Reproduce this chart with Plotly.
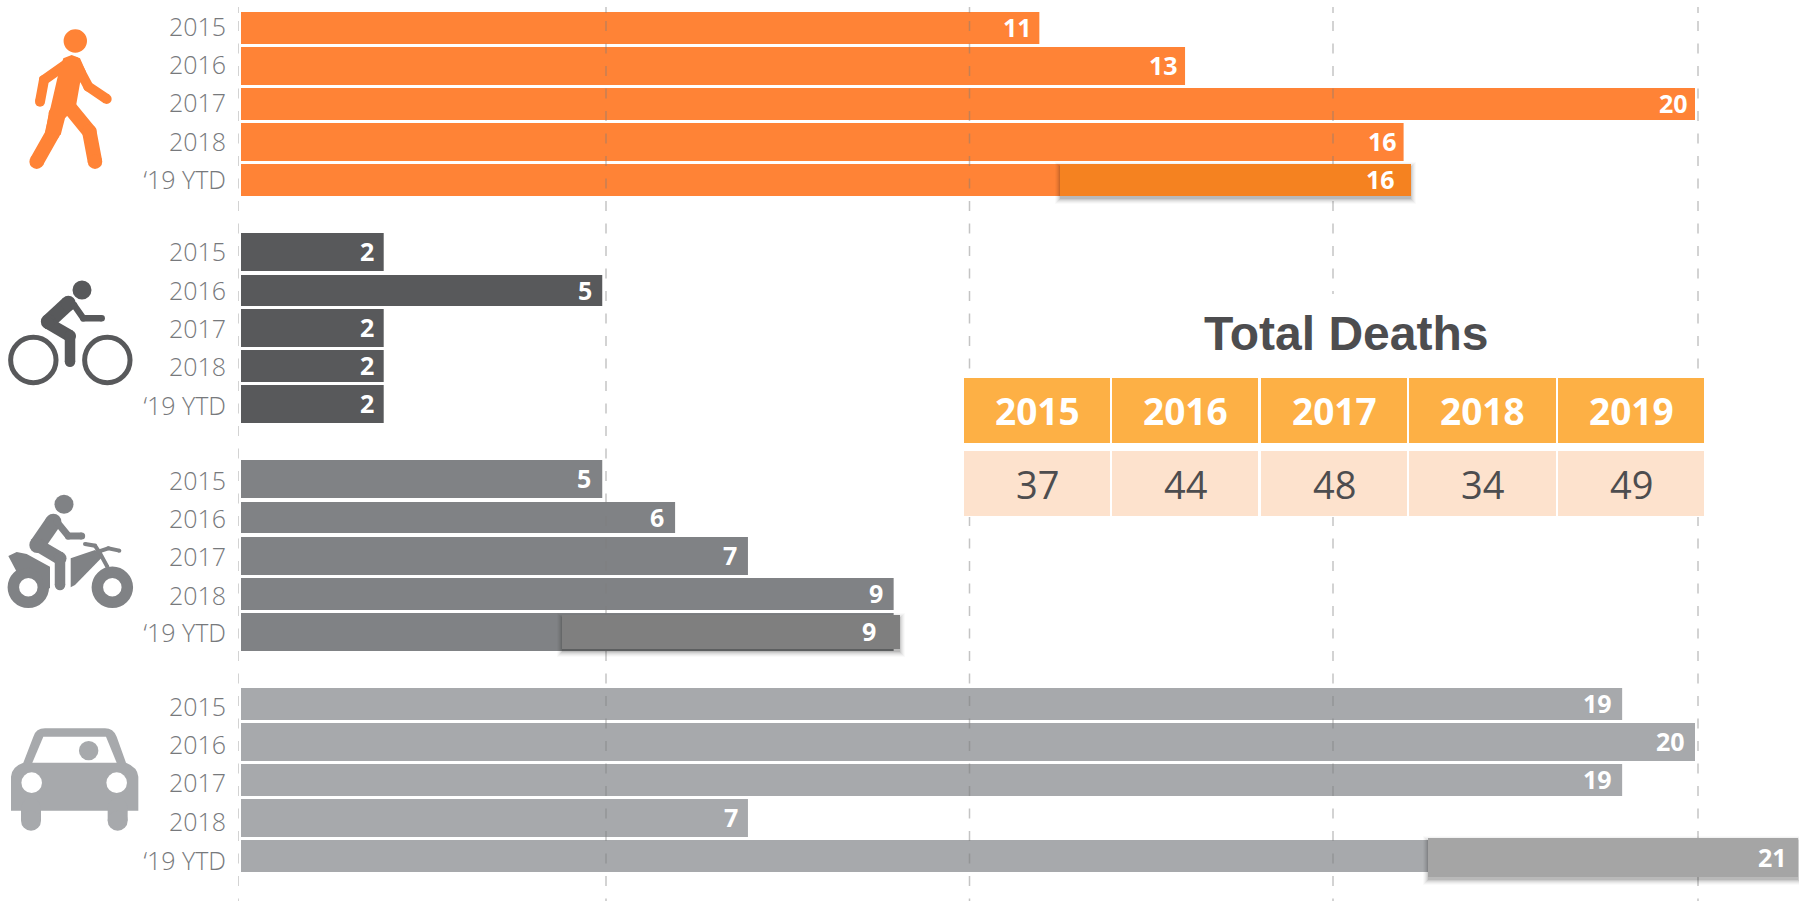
import re
import plotly.graph_objects as go

# ---- data ----
row_labels = ["2015", "2016", "2017", "2018", "‘19 YTD"]
pedestrian = [11, 13, 20, 16, 16]
bicycle = [2, 5, 2, 2, 2]
motorcycle = [5, 6, 7, 9, 9]
car = [19, 20, 19, 7, 21]
total_years = ["2015", "2016", "2017", "2018", "2019"]
total_deaths = [37, 44, 48, 34, 49]
title_text = "Total Deaths"

# ---- layout (pixels of the 1799x901 canvas) ----
W, H = 1799, 901
X0 = 238
UNIT = 72.85
INSET = 3 / UNIT
grid_px = [238, 606, 969.5, 1333, 1698]
ped_top = [12, 47, 88, 123, 164]
ped_bot = [44, 85, 120, 161, 196]
bic_top = [233, 275, 309, 350, 385]
bic_bot = [271, 306, 347, 382, 423]
mot_top = [460, 502, 537, 578, 613]
mot_bot = [498, 533, 575, 610, 651]
car_top = [688, 723, 764, 799, 840]
car_bot = [720, 761, 796, 837, 872]
ped_lab = [27, 65, 103, 142, 180]
bic_lab = [252, 291, 329, 367, 406]
mot_lab = [481, 519, 557, 596, 633]
car_lab = [707, 745, 783, 822, 861]

colors = dict(ped="#FF8336", bic="#58595B", mot="#808285", car="#A7A9AC")
hl_color = dict(ped="#F58220", mot="#7F7F7F", car="#A5A5A5")
label_shift = dict(ped=-5, bic=-8, mot=-9, car=-8)
LABEL = "#77797C"
DARK = "#4D4D4F"
GRID_DASH = "6px,8px," + ",".join(["10px,12.5px"] * 42)

groups = [
    ("ped", pedestrian, ped_top, ped_bot),
    ("bic", bicycle, bic_top, bic_bot),
    ("mot", motorcycle, mot_top, mot_bot),
    ("car", car, car_top, car_bot),
]

# highlighted '19 YTD overlays: start px, end px, top px, bottom px, label right-edge gap
highlights = [
    ("ped", 16, 1060, 1411, 164, 196, -14),
    ("mot", 9, 562, 900, 615, 649, -22),
    ("car", 21, 1428, 1798, 838, 877, -9),
]

fig = go.Figure()

for key, vals, tops, bots in groups:
    fig.add_trace(go.Bar(
        y=[(a + b) / 2 for a, b in zip(tops, bots)],
        x=[v - INSET for v in vals],
        base=INSET,
        width=[b - a for a, b in zip(tops, bots)],
        orientation="h",
        marker=dict(color=colors[key], line=dict(width=0)),
        showlegend=False,
        hoverinfo="skip",
    ))

def to_val(px):
    return (px - X0) / UNIT

for g in grid_px:
    fig.add_trace(go.Scatter(
        x=[to_val(g), to_val(g)], y=[7, H], mode="lines", cliponaxis=False,
        line=dict(color="rgba(125,125,125,0.45)", width=1.5, dash=GRID_DASH),
        showlegend=False, hoverinfo="skip",
    ))

# overlays with soft shadow, on an overlaid subplot that sits above the grid
for key, val, x0, x1, top, bot, gap in highlights:
    for grow, alpha in ((6, 0.02), (5, 0.03), (4, 0.04), (3, 0.05), (2, 0.07), (1, 0.09)):
        fig.add_trace(go.Bar(
            y=[(top + bot) / 2 + 3], x=[(x1 - x0 + 2 * grow - 2) / UNIT],
            base=to_val(x0 - grow + 1), width=[bot - top + 2 * grow - 2],
            orientation="h", xaxis="x2", yaxis="y2",
            marker=dict(color=f"rgba(0,0,0,{alpha})", line=dict(width=0)),
            showlegend=False, hoverinfo="skip",
        ))
    fig.add_trace(go.Bar(
        y=[(top + bot) / 2], x=[(x1 - x0) / UNIT], base=to_val(x0), width=[bot - top],
        orientation="h", xaxis="x2", yaxis="y2",
        marker=dict(color=hl_color[key], line=dict(width=0)),
        showlegend=False, hoverinfo="skip",
    ))

annotations = []
for key, vals, tops, bots in groups:
    for i, v in enumerate(vals):
        if i == 4 and key != "bic":
            continue
        annotations.append(dict(
            x=v, y=(tops[i] + bots[i]) / 2 - 1, xref="x", yref="y", text=str(v),
            showarrow=False, xanchor="right", yanchor="middle", xshift=label_shift[key],
            font=dict(family="Open Sans", size=25, color="white", weight=700),
        ))
for key, val, x0, x1, top, bot, gap in highlights:
    annotations.append(dict(
        x=to_val(x1), y=(top + bot) / 2 - 1, xref="x", yref="y", text=str(val),
        showarrow=False, xanchor="right", yanchor="middle", xshift=gap,
        font=dict(family="Open Sans", size=25, color="white", weight=700),
    ))

# ---- helpers: canvas pixels to paper fractions ----
def px(x):
    return (x - X0) / (W - X0)

def py(y):
    return 1 - y / H

def path_paper(d):
    return re.sub(r"(-?\d+\.?\d*),(-?\d+\.?\d*)",
                  lambda m: f"{px(float(m[1])):.5f},{py(float(m[2])):.5f}", d)

shapes = []

def rect(x0, y0, x1, y1, color):
    shapes.append(dict(type="rect", xref="paper", yref="paper", layer="above",
                       x0=px(x0), x1=px(x1), y0=py(y1), y1=py(y0),
                       fillcolor=color, line=dict(width=0)))

def circle(cx, cy, r, color, stroke=0, fill=True):
    shapes.append(dict(type="circle", xref="paper", yref="paper", layer="above",
                       x0=px(cx - r), x1=px(cx + r), y0=py(cy + r), y1=py(cy - r),
                       fillcolor=color if fill else "rgba(0,0,0,0)",
                       line=dict(width=stroke, color=color)))

def polygon(d, color):
    shapes.append(dict(type="path", xref="paper", yref="paper", layer="above",
                       path=path_paper(d), fillcolor=color, line=dict(width=0)))

def limb(points, w, color):
    d = "M" + " L".join(f"{x},{y}" for x, y in points)
    shapes.append(dict(type="path", xref="paper", yref="paper", layer="above",
                       path=path_paper(d), fillcolor="rgba(0,0,0,0)",
                       line=dict(width=w, color=color)))
    for x, y in points:
        circle(x, y, w / 2, color)

def z(points, ox=0, oy=0):
    return [(ox + x / 3, oy + y / 3) for x, y in points]

def zpoly(points, ox, oy):
    pts = z(points, ox, oy)
    return "M" + " L".join(f"{x:.2f},{y:.2f}" for x, y in pts) + " Z"

# walker
c = colors["ped"]
circle(75.3, 41, 11.7, c)
limb(z([(210, 185), (132, 240), (120, 305)]), 10, c)
limb(z([(225, 185), (265, 260), (320, 297)]), 10, c)
limb(z([(205, 318), (268, 395), (285, 485)]), 14.5, c)
limb(z([(168, 340), (158, 400), (110, 485)]), 14.5, c)
polygon(zpoly([(190, 175), (215, 165), (240, 175), (258, 215), (240, 250), (228, 318),
               (195, 355), (182, 405), (135, 395), (172, 235)], 0, 0), c)

# cyclist
c = colors["bic"]
oy = 220
circle(246 / 3, oy + 210 / 3, 9.5, c)
for cx in (100, 322):
    circle(cx / 3, oy + 420 / 3, 22.7, c, stroke=5, fill=False)
limb(z([(205, 250), (145, 305)], 0, oy), 15, c)
limb(z([(222, 255), (250, 295), (305, 295)], 0, oy), 6.5, c)
limb(z([(145, 310), (210, 348)], 0, oy), 12, c)
limb(z([(210, 348), (210, 425)], 0, oy), 10.5, c)

# quad rider
c = colors["mot"]
oy = 450
circle(192 / 3, oy + 163 / 3, 9.5, c)
for cx in (85, 337):
    circle(cx / 3, oy + 412 / 3, 15, c, stroke=11.5, fill=False)
polygon(zpoly([(25, 318), (50, 306), (80, 312), (150, 350), (150, 415), (130, 415),
               (125, 375), (85, 352), (50, 365)], 0, oy), c)
polygon(zpoly([(212, 325), (285, 300), (310, 318), (225, 405), (212, 412)], 0, oy), c)
limb(z([(160, 215), (112, 285)], 0, oy), 16, c)
limb(z([(170, 215), (205, 258), (245, 258)], 0, oy), 7, c)
limb(z([(112, 285), (180, 325)], 0, oy), 13, c)
limb(z([(180, 325), (180, 405)], 0, oy), 10.5, c)
limb(z([(255, 282), (285, 287), (300, 310), (322, 350)], 0, oy), 4, c)
limb(z([(295, 305), (325, 295), (358, 302)], 0, oy), 4, c)

# car
c = colors["car"]
oy = 680
def cp(x, y):
    return f"{x / 3:.2f},{oy + y / 3:.2f}"
polygon(f"M{cp(33, 392)} L{cp(33, 290)} Q{cp(35, 260)} {cp(70, 248)} L{cp(100, 170)} "
        f"Q{cp(108, 145)} {cp(135, 145)} L{cp(315, 145)} Q{cp(340, 145)} {cp(350, 170)} "
        f"L{cp(378, 248)} Q{cp(413, 262)} {cp(415, 290)} L{cp(415, 392)} Z", c)
limb(z([(93, 385), (93, 422)], 0, oy), 20, c)
limb(z([(353, 385), (353, 422)], 0, oy), 20, c)
polygon(zpoly([(97, 248), (130, 170), (318, 170), (350, 248)], 0, oy), "white")
circle(266 / 3, oy + 212 / 3, 9.7, c)
circle(95 / 3, oy + 308 / 3, 10.3, "white")
circle(350 / 3, oy + 308 / 3, 10.3, "white")

# table and title
rect(1200, 294, 1500, 378, "white")
rect(963, 377, 1705, 517, "white")
cell_left = [964, 1112, 1261, 1409, 1558]
cell_right = [1110, 1258, 1407, 1556, 1704]
for year, total, x0, x1 in zip(total_years, total_deaths, cell_left, cell_right):
    rect(x0, 378, x1, 443, "#FDB045")
    rect(x0, 451, x1, 516, "#FDE2CD")
    annotations.append(dict(
        x=px((x0 + x1) / 2), y=py(411), xref="paper", yref="paper", text=year,
        showarrow=False, xanchor="center", yanchor="middle",
        font=dict(family="Open Sans", size=37, color="white", weight=700)))
    annotations.append(dict(
        x=px((x0 + x1) / 2), y=py(484), xref="paper", yref="paper", text=str(total),
        showarrow=False, xanchor="center", yanchor="middle",
        font=dict(family="Open Sans", size=38, color=DARK)))
annotations.append(dict(
    x=px(1346), y=py(333), xref="paper", yref="paper", text=title_text,
    showarrow=False, xanchor="center", yanchor="middle",
    font=dict(family="Liberation Sans", size=48, color=DARK, weight=700)))

tickvals = ped_lab + bic_lab + mot_lab + car_lab
ticktext = row_labels * 4

axis_hidden = dict(showgrid=False, zeroline=False, showline=False, showticklabels=False, ticks="")
fig.update_layout(
    width=W, height=H, autosize=False,
    margin=dict(l=X0, r=0, t=0, b=0, pad=0),
    paper_bgcolor="white", plot_bgcolor="white",
    barmode="overlay", showlegend=False,
    xaxis=dict(range=[0, (W - X0) / UNIT], domain=[0, 1], **axis_hidden),
    yaxis=dict(range=[H, 0], domain=[0, 1], tickmode="array", tickvals=tickvals,
               ticktext=ticktext, showgrid=False, zeroline=False, showline=False,
               ticks="", ticklabelstandoff=11,
               tickfont=dict(family="Open Sans", size=25, color=LABEL, weight=300)),
    xaxis2=dict(range=[0, (W - X0) / UNIT], overlaying="x", anchor="y2", **axis_hidden),
    yaxis2=dict(range=[H, 0], overlaying="y", anchor="x2", **axis_hidden),
    shapes=shapes,
    annotations=annotations,
)

fig.write_html("out.html", config=dict(displayModeBar=False),
               post_script="document.body.style.margin='0';document.documentElement.style.overflow='hidden';")
